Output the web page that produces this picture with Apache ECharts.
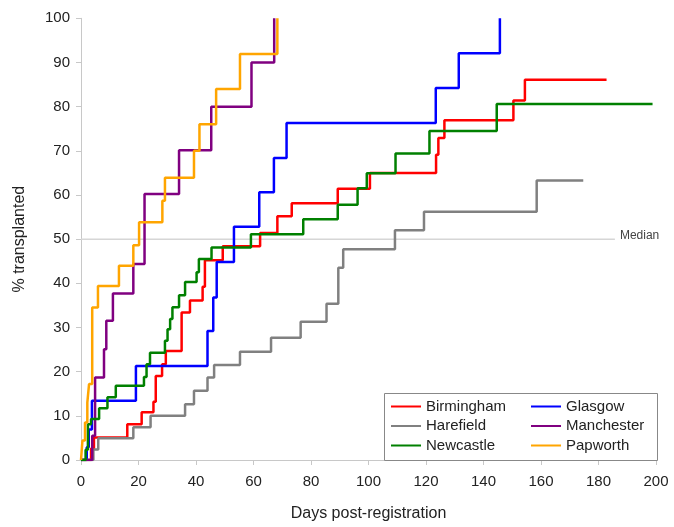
<!DOCTYPE html>
<html>
<head>
<meta charset="utf-8">
<script src="https://cdn.jsdelivr.net/npm/echarts@6/dist/echarts.min.js"></script>
<style>html,body{margin:0;padding:0;background:#fff;}#c{width:674px;height:527px;}</style>
</head>
<body>
<div id="c"></div>
<script>
// [days post-registration, % transplanted]
const birmingham = [[0,0],[3.5,2.6],[4.5,5.1],[16.1,8.1],[21.1,10.8],[25.2,13.2],[26,19],[28.2,21.7],[29.5,24.7],[35,33.4],[37.9,36.1],[42.3,39.2],[43.1,45.2],[49.3,48.4],[62.3,51.4],[68.3,55.2],[73.3,58.1],[89.3,61.4],[100.5,65],[123.5,69.1],[124.3,72.9],[126.4,76.9],[150.4,81.4],[154.4,86.1],[182.8,86.1]];
const glasgow = [[0,0],[2,2.9],[2.7,6.9],[3.8,13.4],[19.1,21.3],[44,29.2],[46,36.8],[47.2,44.8],[53.2,52.8],[62,60.6],[67.1,68.4],[71.5,76.3],[123.4,84.2],[131.4,92.1],[145.7,100]];
const harefield = [[0,0],[4.3,2.4],[6,4.9],[18.2,7.4],[24.2,10],[36.2,12.6],[39.3,15.7],[44,18.7],[46.3,21.5],[55.3,24.5],[66.1,27.7],[76.4,31.3],[85.4,35.4],[89.5,43.5],[91.2,47.7],[109.2,52],[119.3,56.2],[158.5,63.3],[174.7,63.3]];
const manchester = [[0,0],[3.9,5.5],[4.9,18.7],[8,25.1],[8.8,31.5],[11.1,37.7],[18.2,44.4],[22.1,60.2],[34.1,70.1],[45.3,80],[59.3,90],[67.2,100]];
const newcastle = [[0,0],[1.6,2.3],[2.4,8.1],[3.5,9.3],[6.3,11.7],[9.2,14.2],[12.1,16.8],[21.9,18.8],[22.8,21.7],[24,24.3],[29.2,27],[30.1,29.6],[31,31.9],[31.8,34.6],[34.1,37.3],[36.2,40.3],[40.2,42.5],[41,45.5],[45.4,48.1],[59.1,51.1],[77.3,54.5],[89.3,57.8],[96.2,61.5],[99.4,64.9],[109.4,69.4],[121.2,74.5],[144.6,80.6],[198.8,80.6]];
const papworth = [[0,0],[0.5,4.4],[1.4,8.5],[2.2,13],[2.8,17.2],[3.9,34.5],[5.9,39.4],[13.2,44],[18.2,48.6],[20.2,53.8],[28.3,58.7],[29.2,63.9],[39.3,70],[41.2,76],[47,84],[55.3,91.9],[68.3,100]];
const medianLine = [[0,50],[185.7,50]];

const seriesNames = ['Birmingham','Glasgow','Harefield','Manchester','Newcastle','Papworth'];
const seriesData = [birmingham, glasgow, harefield, manchester, newcastle, papworth];
const seriesColors = ['#ff0000','#0000ff','#808080','#800080','#008000','#ffa500'];
const legendCol1 = ['Birmingham','Harefield','Newcastle'];
const legendCol2 = ['Glasgow','Manchester','Papworth'];

const FONT = '"Liberation Sans", Arial, sans-serif';
const chart = echarts.init(document.getElementById('c'), null, {renderer: 'canvas'});

const series = seriesNames.map((n, i) => ({
  name: n, type: 'line', step: 'end', data: seriesData[i],
  symbol: 'none', showSymbol: false, z: 3,
  color: seriesColors[i],
  lineStyle: {color: seriesColors[i], width: 2.5},
  emphasis: {disabled: true}, animation: false
}));
series.unshift({
  name: 'Median', type: 'line', data: medianLine, symbol: 'none', z: 1,
  lineStyle: {color: '#d6d6d6', width: 1.5},
  endLabel: {show: true, formatter: 'Median', color: '#444', fontSize: 12, fontFamily: FONT, distance: 5, offset: [0, -3]},
  emphasis: {disabled: true}, animation: false
});

const legendCommon = {
  orient: 'vertical', itemWidth: 30, itemHeight: 14, itemGap: 4.5, padding: 0,
  itemStyle: {opacity: 0},
  textStyle: {fontSize: 15, fontFamily: FONT, color: '#222', lineHeight: 15}, selectedMode: false, z: 5
};

chart.setOption({
  animation: false,
  backgroundColor: '#fff',
  grid: {left: 81, right: 18, top: 18.3, bottom: 66, containLabel: false},
  xAxis: {
    type: 'value', min: 0, max: 200, interval: 20, offset: 6,
    name: 'Days post-registration', nameLocation: 'middle', nameGap: 40,
    nameTextStyle: {fontSize: 16, fontFamily: FONT, color: '#222'},
    axisLine: {show: true, lineStyle: {color: '#c8c8c8', width: 1}},
    axisTick: {show: true, length: 5, lineStyle: {color: '#c8c8c8'}},
    axisLabel: {fontSize: 15, fontFamily: FONT, color: '#222', margin: 8},
    splitLine: {show: false}
  },
  yAxis: {
    type: 'value', min: 0, max: 100, interval: 10, offset: 4,
    name: '% transplanted', nameLocation: 'middle', nameGap: 49, nameRotate: 90,
    nameTextStyle: {fontSize: 16, fontFamily: FONT, color: '#222'},
    axisLine: {show: true, lineStyle: {color: '#c8c8c8', width: 1}},
    axisTick: {show: true, length: 5, lineStyle: {color: '#c8c8c8'}},
    axisLabel: {fontSize: 15, fontFamily: FONT, color: '#222', margin: 7},
    splitLine: {show: false}
  },
  legend: [
    Object.assign({}, legendCommon, {left: 390, top: 399, data: legendCol1}),
    Object.assign({}, legendCommon, {left: 530, top: 399, data: legendCol2})
  ],
  graphic: [{
    type: 'rect', z: 4, silent: true,
    shape: {x: 384.5, y: 393.5, width: 273, height: 67},
    style: {fill: '#fff', stroke: '#888', lineWidth: 1}
  }],
  series: series
});
</script>
</body>
</html>
